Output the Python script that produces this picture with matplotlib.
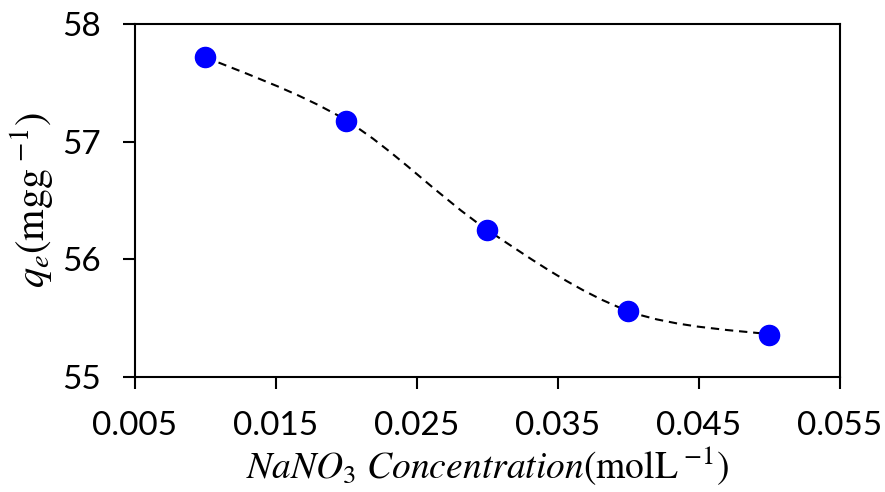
import numpy as np
import matplotlib
matplotlib.use("Agg")
import matplotlib.pyplot as plt
from matplotlib.path import Path
from matplotlib.patches import PathPatch

# data
conc = [0.01, 0.02, 0.03, 0.04, 0.05]
qe = [57.72, 57.18, 56.25, 55.56, 55.36]
xticks = [0.005, 0.015, 0.025, 0.035, 0.045, 0.055]
xtick_labels = ["0.005", "0.015", "0.025", "0.035", "0.045", "0.055"]
yticks = [55, 56, 57, 58]

plt.rcParams["mathtext.fontset"] = "stix"

fig = plt.figure(figsize=(8.85, 4.92), dpi=100)
ax = fig.add_axes([0.1525, 0.234, 0.7965, 0.717])

# smoothed line (Excel-like Catmull-Rom bezier through the points)
pts = np.column_stack([conc, qe])
verts = [pts[0]]
codes = [Path.MOVETO]
n = len(pts)
for i in range(n - 1):
    p_prev = pts[i - 1] if i > 0 else pts[i]
    p_next2 = pts[i + 2] if i + 2 < n else pts[i + 1]
    c1 = pts[i] + (pts[i + 1] - p_prev) / 6.0
    c2 = pts[i + 1] - (p_next2 - pts[i]) / 6.0
    verts += [c1, c2, pts[i + 1]]
    codes += [Path.CURVE4] * 3
curve = PathPatch(Path(verts, codes), facecolor="none", edgecolor="black",
                  linewidth=1.5, linestyle=(0, (4, 2.8)), zorder=2)
ax.add_patch(curve)

ax.plot(conc, qe, linestyle="none", marker="o", markersize=14.5,
        markerfacecolor="#0000FF", markeredgecolor="#0000FF", zorder=3)

ax.set_xlim(0.005, 0.055)
ax.set_ylim(55, 58)
ax.set_xticks(xticks)
ax.set_xticklabels(xtick_labels)
ax.set_yticks(yticks)

for s in ax.spines.values():
    s.set_linewidth(1.5)
ax.tick_params(axis="both", direction="out", length=8.5, width=1.5,
               labelsize=24)
ax.tick_params(axis="x", pad=16)
ax.tick_params(axis="y", pad=16)
for lbl in ax.get_xticklabels() + ax.get_yticklabels():
    lbl.set_family(["Lato", "DejaVu Sans"])

ax.set_xlabel(r"$NaNO_3\ Concentration$(molL$^{\ \mathrm{-1}}$)",
              fontsize=27, family="STIXGeneral", labelpad=3)
ax.set_ylabel(r"$q_e$(mgg$^{\ \mathrm{-1}}$)", fontsize=29,
              family="STIXGeneral", labelpad=5)

fig.savefig("out.png", dpi=100)
